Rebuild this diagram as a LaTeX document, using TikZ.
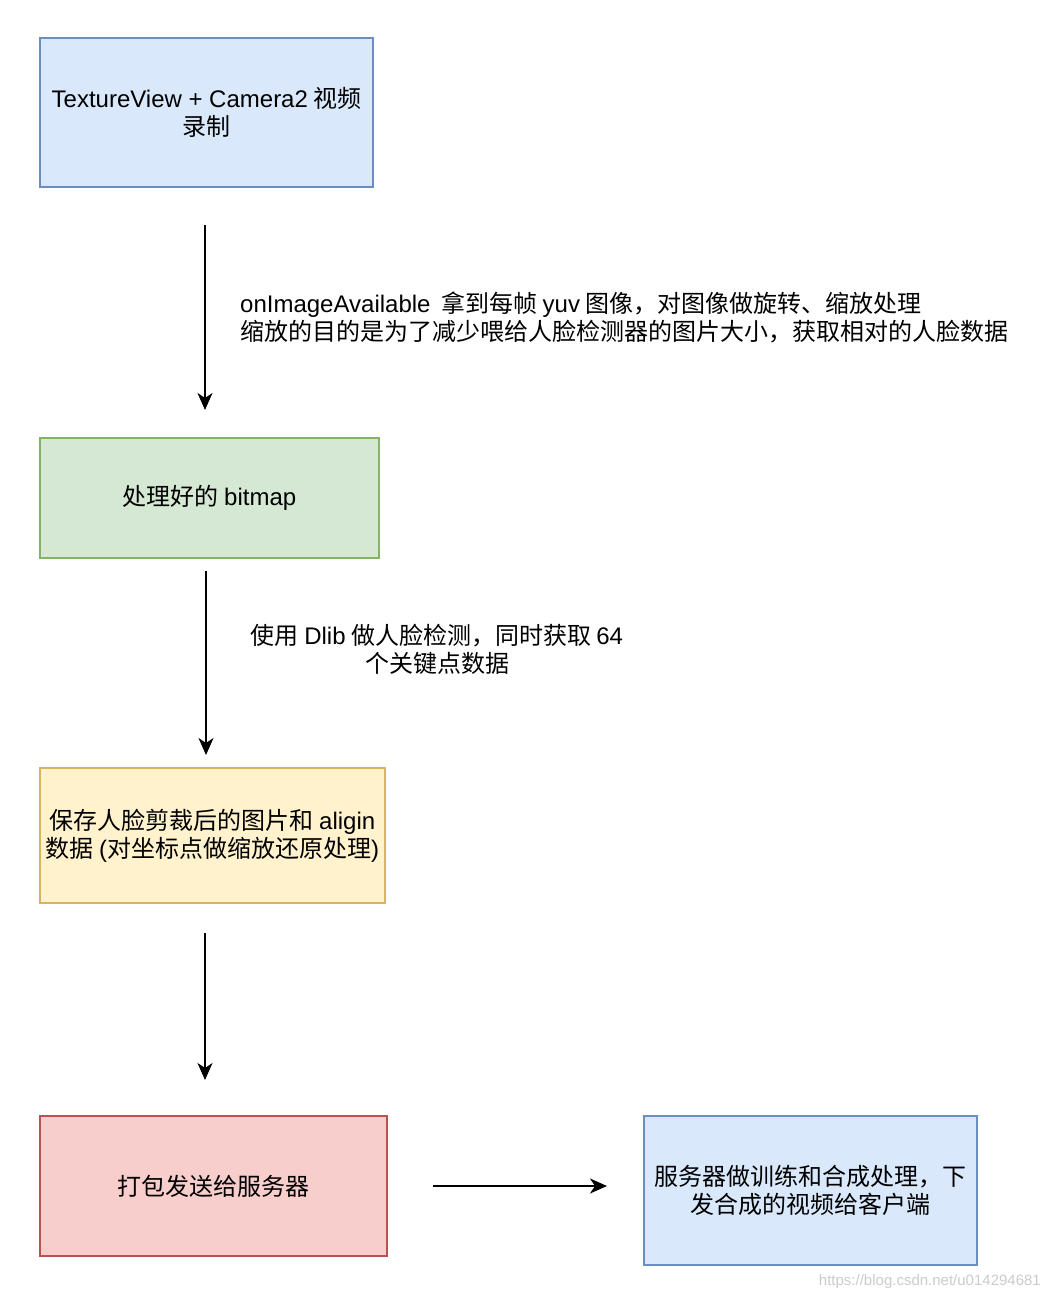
\documentclass[tikz,border=0pt]{standalone}
\usepackage{fontspec}
\setmainfont{Noto Sans CJK SC}
\newfontfamily\lsans{Liberation Sans}
\usepackage{tikz}
\usetikzlibrary{positioning}
\usetikzlibrary{arrows.meta}

\definecolor{bluefill}{HTML}{DAE8FC}
\definecolor{bluedraw}{HTML}{6C8EBF}
\definecolor{greenfill}{HTML}{D5E8D4}
\definecolor{greendraw}{HTML}{82B366}
\definecolor{yellowfill}{HTML}{FFF2CC}
\definecolor{yellowdraw}{HTML}{D6B656}
\definecolor{redfill}{HTML}{F8CECC}
\definecolor{reddraw}{HTML}{B85450}

\tikzset{
  box/.style={draw, line width=1.6pt, align=center, inner sep=0pt,
    font=\fontsize{24}{28}\selectfont},
  flow/.style={line width=1.6pt, -{Stealth[length=17pt,width=15pt,inset=5pt]}},
  note/.style={font=\fontsize{24}{28}\selectfont, inner sep=0pt}
}

\begin{document}
\begin{tikzpicture}[x=1pt,y=-1pt]
\useasboundingbox[fill=white] (0,0) rectangle (1048,1300);

\node[box, fill=bluefill, draw=bluedraw, minimum width=333pt, minimum height=149pt]
  (cam) at (206.5,112.5) {{\lsans TextureView + Camera2} 视频\\录制};
\node[box, fill=greenfill, draw=greendraw, minimum width=339pt, minimum height=120pt]
  (bmp) at (209.5,498) {处理好的 {\lsans bitmap}};
\node[box, fill=yellowfill, draw=yellowdraw, minimum width=345pt, minimum height=135pt]
  (crop) at (212.5,835.5) {保存人脸剪裁后的图片和 {\lsans aligin}\\数据 {\lsans (}对坐标点做缩放还原处理{\lsans )}};
\node[box, fill=redfill, draw=reddraw, minimum width=347pt, minimum height=140pt]
  (pack) at (213.5,1186) {打包发送给服务器};
\node[box, fill=bluefill, draw=bluedraw, minimum width=333pt, minimum height=149pt]
  (srv) at (810.5,1190.5) {服务器做训练和合成处理，下\\发合成的视频给客户端};

% free arrow ends
\coordinate (a1s) at (205,225);
\coordinate (a1e) at (205,410);
\coordinate (a2s) at (206,571);
\coordinate (a2e) at (206,755);
\coordinate (a3s) at (205,933);
\coordinate (a3e) at (205,1080);
\coordinate (a4s) at (433,1186);
\coordinate (a4e) at (607,1186);

\draw[flow] (a1s) -- (a1e);
\draw[flow] (a2s) -- (a2e);
\draw[flow] (a3s) -- (a3e);
\draw[flow] (a4s) -- (a4e);

\node[note, anchor=west, align=left] (lbl1) at (240,317)
  {{\lsans onImageAvailable}\ \ 拿到每帧 {\lsans yuv} 图像，对图像做旋转、缩放处理\\缩放的目的是为了减少喂给人脸检测器的图片大小，获取相对的人脸数据};
\node[note, align=center] (lbl2) at (437,649)
  {使用 {\lsans Dlib} 做人脸检测，同时获取 {\lsans 64}\\个关键点数据};

\node[anchor=east, inner sep=0pt, text=black!20, font=\lsans\fontsize{15}{18}\selectfont]
  (wm) at (1041,1282) {https://blog.csdn.net/u014294681};
\end{tikzpicture}
\end{document}
